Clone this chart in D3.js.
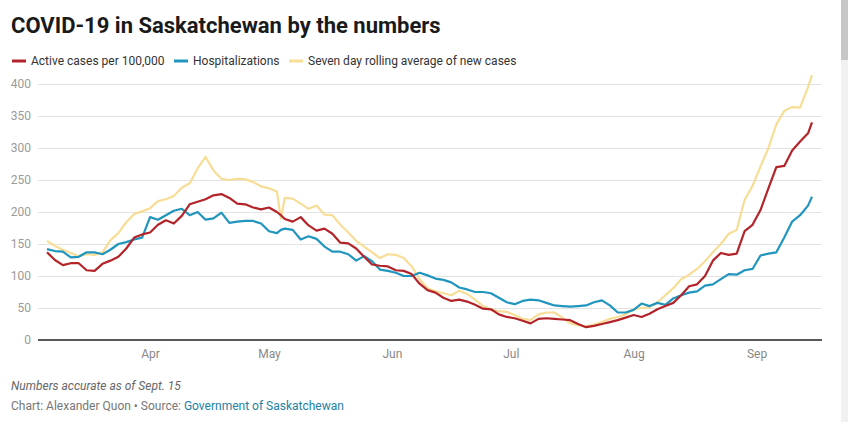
<!DOCTYPE html>
<html>
<head>
<meta charset="utf-8">
<script src="https://cdn.jsdelivr.net/npm/d3@7"></script>
<style>
  body { margin: 0; background: #fff; font-family: Roboto, "Noto Sans", sans-serif; }
  svg { display: block; }
</style>
</head>
<body>
<script>
// data, first day is March 6 2021
var startDate = "2021-03-06";

var dayOffsets = [0, 2, 4, 6, 8, 10, 12, 14, 16, 18, 20, 22, 24, 26, 28, 30, 32, 34, 36, 38,
  40, 42, 44, 46, 48, 50, 52, 54, 56, 58, 59, 60, 62, 64, 66, 68, 70, 72, 74, 76, 78,
  80, 82, 84, 86, 88, 90, 92, 94, 96, 98, 100, 102, 104, 106, 108, 110, 112, 114, 116, 118,
  120, 122, 124, 126, 128, 130, 132, 134, 136, 138, 140, 142, 144, 146, 148, 150, 152, 154, 156, 158,
  160, 162, 164, 166, 168, 170, 172, 174, 176, 178, 180, 182, 184, 186, 188, 190, 192, 193];

var activeCases = [137, 125, 117, 120, 120, 109, 108, 119, 124, 130, 143, 160, 165, 168, 180, 187, 182, 194, 212, 216,
  220, 226, 228, 222, 213, 212, 207, 204, 207, 200, 195, 189, 185, 192, 179, 171, 174, 166, 152, 151, 143,
  130, 118, 116, 115, 109, 108, 103, 88, 78, 74, 66, 61, 63, 60, 55, 49, 48, 40, 36, 34,
  30, 26, 33, 34, 33, 32, 31, 25, 20, 22, 25, 28, 31, 35, 39, 36, 41, 48, 53, 58,
  70, 84, 87, 100, 124, 136, 133, 135, 170, 180, 203, 237, 270, 272, 296, 310, 323, 340];

var hospitalizations = [142, 139, 138, 129, 130, 137, 137, 134, 141, 150, 153, 157, 160, 192, 188, 195, 202, 205, 195, 200,
  188, 190, 199, 183, 185, 186, 186, 182, 170, 167, 172, 174, 172, 157, 162, 158, 146, 138, 138, 134, 124,
  131, 123, 110, 108, 105, 100, 100, 105, 101, 96, 94, 90, 82, 79, 75, 75, 73, 66, 59, 56,
  61, 63, 62, 58, 54, 53, 52, 53, 54, 59, 62, 54, 43, 43, 47, 57, 53, 58, 55, 65,
  70, 74, 76, 85, 87, 95, 103, 102, 109, 111, 132, 135, 137, 160, 185, 195, 210, 224];

var sevenDayAvg = [155, 147, 141, 136, 131, 134, 133, 137, 156, 167, 184, 197, 201, 206, 217, 220, 225, 238, 245, 268,
  286, 265, 252, 250, 252, 251, 247, 240, 237, 232, 190, 222, 221, 213, 205, 210, 196, 195, 180, 168, 155,
  146, 137, 128, 134, 133, 128, 115, 95, 81, 76, 73, 70, 77, 72, 63, 53, 48, 45, 44, 39,
  33, 31, 40, 43, 43, 35, 26, 23, 21, 24, 28, 33, 36, 40, 48, 50, 51, 59, 70, 81,
  95, 102, 111, 123, 137, 150, 166, 172, 219, 241, 271, 300, 337, 358, 364, 363, 395, 414];

var seriesNames = ["Active cases per 100,000", "Hospitalizations", "Seven day rolling average of new cases"];
var seriesColors = ["#b3242a", "#2095bd", "#f7dd96"];

var yTicks = [0, 50, 100, 150, 200, 250, 300, 350, 400];
var xTickDates = ["2021-04-01", "2021-05-01", "2021-06-01", "2021-07-01", "2021-08-01", "2021-09-01"];
var xTickLabels = ["Apr", "May", "Jun", "Jul", "Aug", "Sep"];

var width = 848, height = 422;

var svg = d3.select("body").append("svg")
  .attr("width", width)
  .attr("height", height);

var parse = d3.utcParse("%Y-%m-%d");
var start = parse(startDate);
var dates = dayOffsets.map(function (d) { return d3.utcDay.offset(start, d); });

var x = d3.scaleUtc()
  .domain(d3.extent(dates))
  .range([47, 812]);

var y = d3.scaleLinear()
  .domain([0, 400])
  .range([340, 84]);

// title
svg.append("text")
  .attr("x", 11)
  .attr("y", 33)
  .style("font-size", "22px")
  .style("font-weight", "700")
  .style("fill", "#1a1a1a")
  .text("COVID-19 in Saskatchewan by the numbers");

// legend
var legendX = [12, 174, 289];
var legend = svg.selectAll("g.legend")
  .data(seriesNames)
  .enter()
  .append("g")
  .attr("class", "legend")
  .attr("transform", function (d, i) { return "translate(" + legendX[i] + ",61)"; });

legend.append("line")
  .attr("x1", 0).attr("x2", 14)
  .attr("y1", 0).attr("y2", 0)
  .style("stroke", function (d, i) { return seriesColors[i]; })
  .style("stroke-width", 3);

legend.append("text")
  .attr("x", 19)
  .attr("y", 4)
  .style("font-size", "12px")
  .style("fill", "#333")
  .text(function (d) { return d; });

// grid + y labels
var yAxis = d3.axisLeft(y)
  .tickValues(yTicks)
  .tickSize(-(822 - 38))
  .tickPadding(7);

var gy = svg.append("g")
  .attr("transform", "translate(38,0)")
  .call(yAxis);
gy.select(".domain").remove();
gy.selectAll(".tick line")
  .style("stroke", "#e3e3e3")
  .style("stroke-width", 1);
gy.selectAll(".tick text")
  .style("font-family", "Roboto, sans-serif")
  .style("font-size", "12px")
  .style("fill", "#9a9a9a");
gy.selectAll(".tick")
  .filter(function (d) { return d === 0; })
  .select("line").remove();

// x axis
var xAxis = d3.axisBottom(x)
  .tickValues(xTickDates.map(parse))
  .tickFormat(function (d, i) { return xTickLabels[i]; })
  .tickSize(0)
  .tickPadding(9);

var gx = svg.append("g")
  .attr("transform", "translate(0,340)")
  .call(xAxis);
gx.select(".domain").remove();
gx.selectAll(".tick text")
  .style("font-family", "Roboto, sans-serif")
  .style("font-size", "12px")
  .style("fill", "#888");

// lines
var allSeries = [activeCases, hospitalizations, sevenDayAvg];
var line = d3.line()
  .x(function (d, i) { return x(dates[i]); })
  .y(function (d) { return y(d); });

var drawOrder = [2, 1, 0];
svg.selectAll("path.series")
  .data(drawOrder)
  .enter()
  .append("path")
  .attr("class", "series")
  .attr("d", function (k) { return line(allSeries[k]); })
  .style("fill", "none")
  .style("stroke", function (k) { return seriesColors[k]; })
  .style("stroke-width", 2.2)
  .style("stroke-linejoin", "round");

// baseline
svg.append("line")
  .attr("x1", 38).attr("x2", 822)
  .attr("y1", y(0)).attr("y2", y(0))
  .style("stroke", "#222")
  .style("stroke-width", 1.3);

// notes
svg.append("text")
  .attr("x", 11)
  .attr("y", 390)
  .style("font-size", "12px")
  .style("font-style", "italic")
  .style("fill", "#666")
  .text("Numbers accurate as of Sept. 15");

var src = svg.append("text")
  .attr("x", 11)
  .attr("y", 410)
  .style("font-size", "12px")
  .style("fill", "#777");
src.append("tspan").text("Chart: Alexander Quon \u2022 Source: ");
src.append("tspan").style("fill", "#1d81a5").text("Government of Saskatchewan");

// scrollbar strip on the right edge
svg.append("rect")
  .attr("x", 841).attr("y", 0)
  .attr("width", 7).attr("height", height)
  .style("fill", "#f1f1f1");
svg.append("rect")
  .attr("x", 841).attr("y", 0)
  .attr("width", 7).attr("height", 60)
  .style("fill", "#c6c6c6");
</script>
</body>
</html>
